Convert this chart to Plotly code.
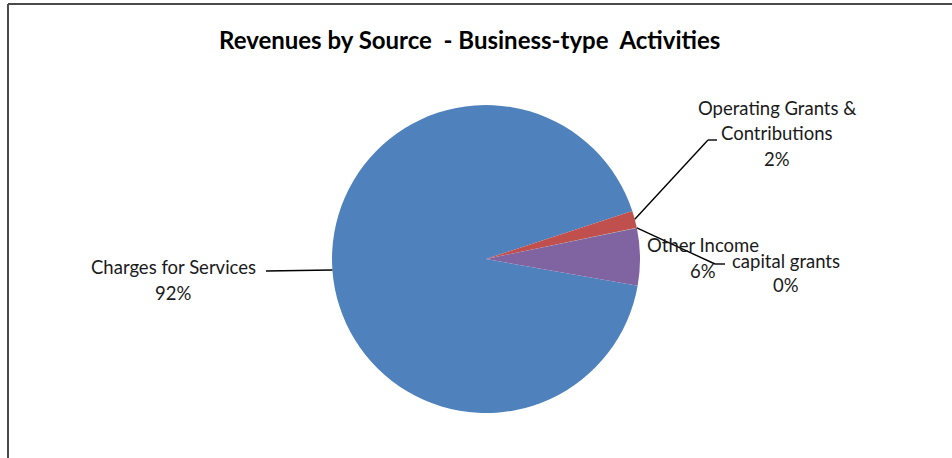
import math
import plotly.graph_objects as go

# Revenue sources (share of total, in percent)
categories = ["Charges for Services", "Operating Grants & Contributions", "capital grants", "Other Income"]
values = [92.2, 1.8, 0.03, 6.0]
colors = ["#4F81BD", "#C0504D", "#9BBB59", "#8064A2"]

W, H = 952, 458
CX, CY, R = 486, 259, 154          # pie centre and radius in pixels
ROTATION = 100                     # start angle of first slice, clockwise from 12 o'clock
FONT = "Lato"


def px(x):
    return x / W


def py(y):
    return 1 - y / H


def edge_point(idx, frac=0.5):
    """Pixel point on the pie rim at a fraction through slice idx."""
    total = sum(values)
    start = ROTATION + 360 * sum(values[:idx]) / total
    ang = math.radians(start + 360 * values[idx] * frac / total)
    return CX + R * math.sin(ang), CY - R * math.cos(ang)


def pct(idx):
    return f"{round(100 * values[idx] / sum(values))}%"


fig = go.Figure(
    go.Pie(
        labels=categories,
        values=values,
        sort=False,
        direction="clockwise",
        rotation=ROTATION,
        marker=dict(colors=colors, line=dict(width=0)),
        textinfo="none",
        hoverinfo="label+percent",
        showlegend=False,
        domain=dict(x=[px(CX - R), px(CX + R)], y=[py(CY + R), py(CY - R)]),
    )
)

annotations = []
shapes = []


def add_label(lines, cx, top_y, step=25.5):
    for k, t in enumerate(lines):
        annotations.append(dict(
            x=px(cx), y=py(top_y + k * step), xref="paper", yref="paper",
            text=t, showarrow=False, xanchor="center", yanchor="middle",
            font=dict(family=FONT, size=18.5, color="#1a1a1a"),
        ))


def add_leader(points):
    for (x0, y0), (x1, y1) in zip(points[:-1], points[1:]):
        shapes.append(dict(
            type="line", xref="paper", yref="paper",
            x0=px(x0), y0=py(y0), x1=px(x1), y1=py(y1),
            line=dict(color="#000000", width=1.4),
        ))


# Charges for Services
add_label([categories[0], pct(0)], 173, 267)
ex, ey = edge_point(0)
add_leader([(ex, ey), (266, ey + 1)])

# Operating Grants & Contributions
add_label(["Operating Grants &", "Contributions", pct(1)], 777, 108)
ex, ey = edge_point(1)
add_leader([(ex, ey), (708, 140), (717, 140)])

# capital grants
add_label([categories[2], pct(2)], 786, 261, step=24)
ex, ey = edge_point(2)
add_leader([(ex, ey), (715, 264), (725, 264)])

# Other Income
add_label([categories[3], pct(3)], 703, 245)

# Chart frame
frame = [(8, H + 5), (8, 4), (W + 5, 4)]
for (x0, y0), (x1, y1) in zip(frame[:-1], frame[1:]):
    shapes.append(dict(
        type="line", xref="paper", yref="paper",
        x0=px(x0), y0=py(y0), x1=px(x1), y1=py(y1),
        line=dict(color="#4a4a4a", width=2),
    ))

annotations.append(dict(
    x=px(469), y=py(39), xref="paper", yref="paper",
    text="<b>Revenues by Source\u00a0 - Business-type\u00a0 Activities</b>",
    showarrow=False, xanchor="center", yanchor="middle",
    font=dict(family=FONT, size=24, color="#000000"),
))

fig.update_layout(
    width=W, height=H,
    margin=dict(l=0, r=0, t=0, b=0),
    paper_bgcolor="white", plot_bgcolor="white",
    annotations=annotations,
    shapes=shapes,
)

fig.write_html("out.html", config={"displayModeBar": False})
